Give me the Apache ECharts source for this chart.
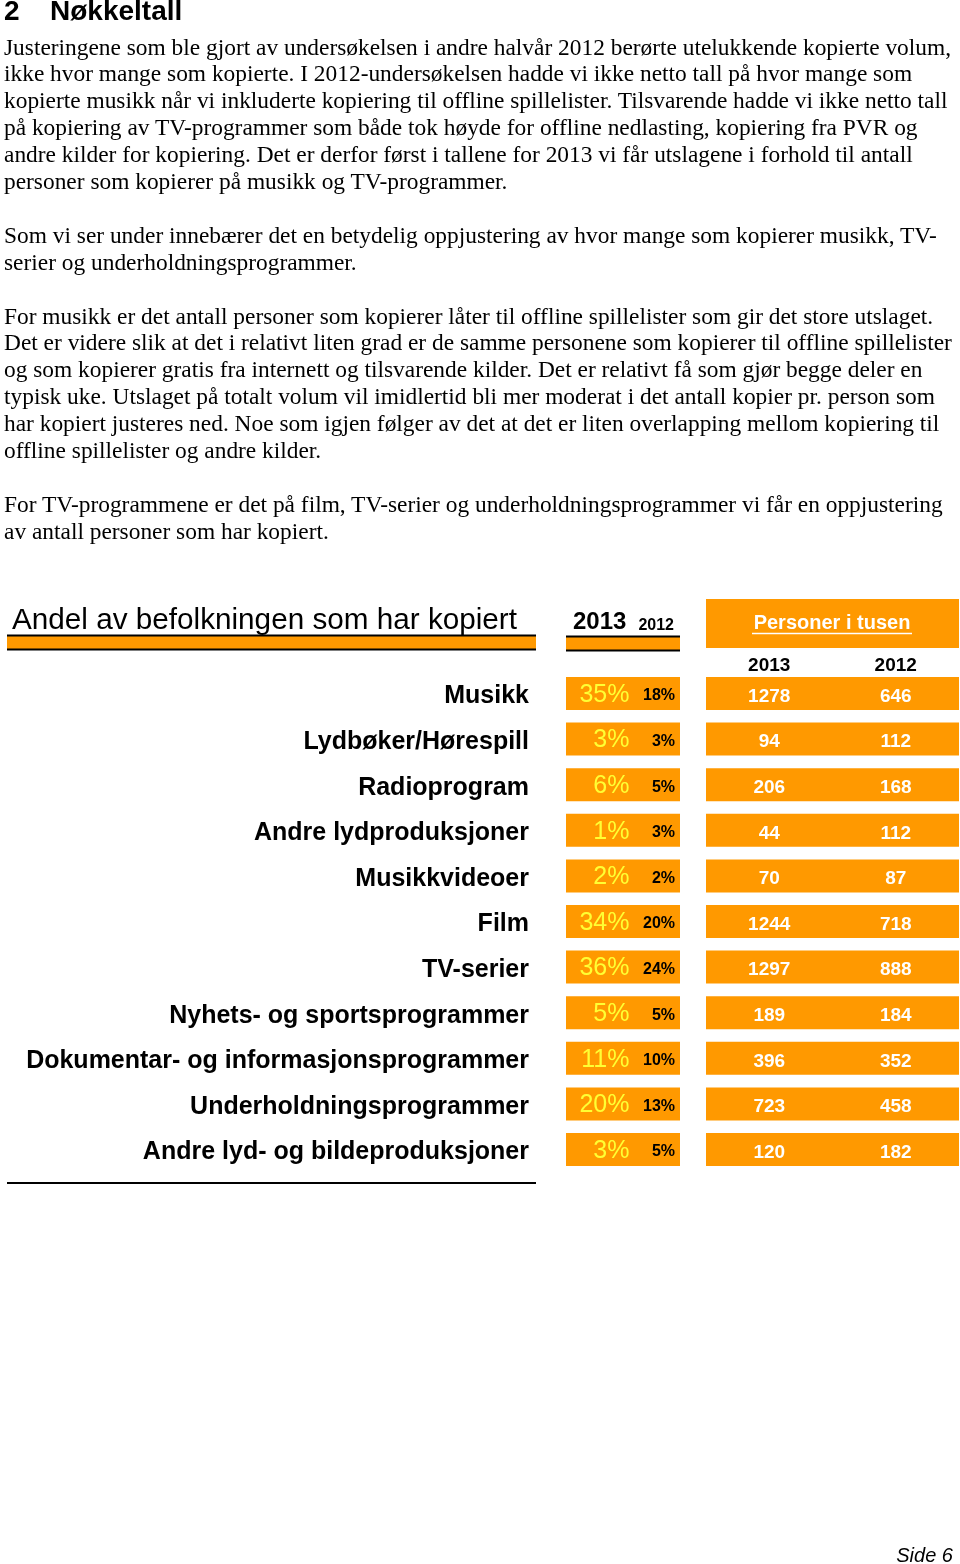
<!DOCTYPE html>
<html>
<head>
<meta charset="utf-8">
<script src="https://cdn.jsdelivr.net/npm/echarts@6/dist/echarts.min.js"></script>
<style>
html,body{margin:0;padding:0;background:#fff;}
#page{position:relative;width:960px;height:1564px;overflow:hidden;background:#fff;}
#chart{position:absolute;left:0;top:0;width:960px;height:1564px;}
.hd{position:absolute;top:-5px;font-family:'Liberation Sans',Arial,sans-serif;font-weight:bold;font-size:28px;line-height:32px;color:#000;white-space:nowrap;}
.body{position:absolute;left:4px;top:33.5px;font-family:'Liberation Serif','Times New Roman',serif;font-size:23.4px;line-height:26.9px;color:#000;white-space:pre;}
.side{position:absolute;right:7px;top:1542px;font-family:'Liberation Sans',Arial,sans-serif;font-style:italic;font-size:20px;line-height:26px;color:#000;}
</style>
</head>
<body>
<div id="page">
<div id="chart"></div>
<div class="hd" style="left:4px">2</div>
<div class="hd" style="left:50px">Nøkkeltall</div>
<div class="body">Justeringene som ble gjort av undersøkelsen i andre halvår 2012 berørte utelukkende kopierte volum,
ikke hvor mange som kopierte. I 2012-undersøkelsen hadde vi ikke netto tall på hvor mange som
kopierte musikk når vi inkluderte kopiering til offline spillelister. Tilsvarende hadde vi ikke netto tall
på kopiering av TV-programmer som både tok høyde for offline nedlasting, kopiering fra PVR og
andre kilder for kopiering. Det er derfor først i tallene for 2013 vi får utslagene i forhold til antall
personer som kopierer på musikk og TV-programmer.

Som vi ser under innebærer det en betydelig oppjustering av hvor mange som kopierer musikk, TV-
serier og underholdningsprogrammer.

For musikk er det antall personer som kopierer låter til offline spillelister som gir det store utslaget.
Det er videre slik at det i relativt liten grad er de samme personene som kopierer til offline spillelister
og som kopierer gratis fra internett og tilsvarende kilder. Det er relativt få som gjør begge deler en
typisk uke. Utslaget på totalt volum vil imidlertid bli mer moderat i det antall kopier pr. person som
har kopiert justeres ned. Noe som igjen følger av det at det er liten overlapping mellom kopiering til
offline spillelister og andre kilder.

For TV-programmene er det på film, TV-serier og underholdningsprogrammer vi får en oppjustering
av antall personer som har kopiert.</div>
<div class="side">Side 6</div>
</div>
<script>
const categories = ['Musikk','Lydbøker/Hørespill','Radioprogram','Andre lydproduksjoner','Musikkvideoer','Film','TV-serier','Nyhets- og sportsprogrammer','Dokumentar- og informasjonsprogrammer','Underholdningsprogrammer','Andre lyd- og bildeproduksjoner'];
const years = ['2013','2012'];
const pct2013 = [35,3,6,1,2,34,36,5,11,20,3];
const pct2012 = [18,3,5,3,2,20,24,5,10,13,5];
const pers2013 = [1278,94,206,44,70,1244,1297,189,396,723,120];
const pers2012 = [646,112,168,112,87,718,888,184,352,458,182];
const chartTitle = 'Andel av befolkningen som har kopiert';
const personsTitle = 'Personer i tusen';

const ORANGE = '#FF9900';
const FONT = "'Liberation Sans', Arial, sans-serif";

const pctData = categories.map((c,i)=>[0,i,pct2013[i],pct2012[i]]);
const persData = categories.map((c,i)=>[0,i,pers2013[i],pers2012[i]]);

function band(params, api){
  const cs = params.coordSys;
  const c = api.coord([0, api.value(1)]);
  const bh = api.size([0,1])[1]*0.724;
  return {type:'rect', shape:{x:cs.x, y:c[1]-bh/2, width:cs.width, height:bh}, style:{fill:ORANGE}};
}
function renderPct(params, api){
  const row = api.value(1);
  const c0 = api.coord([0,row]);
  const c1 = api.coord([1,row]);
  return {type:'group', children:[
    band(params, api),
    {type:'text', x:c0[0]+35, y:c0[1]+1.5, style:{text:api.value(2)+'%', align:'right', verticalAlign:'middle', fill:'#FFFF33', font:'25px '+FONT}},
    {type:'text', x:c1[0]+23.5, y:c1[1]+2.5, style:{text:api.value(3)+'%', align:'right', verticalAlign:'middle', fill:'#000', font:'bold 16px '+FONT}}
  ]};
}
function renderPers(params, api){
  const row = api.value(1);
  const c0 = api.coord([0,row]);
  const c1 = api.coord([1,row]);
  return {type:'group', children:[
    band(params, api),
    {type:'text', x:c0[0], y:c0[1]+3, style:{text:String(api.value(2)), align:'center', verticalAlign:'middle', fill:'#fff', font:'bold 19px '+FONT}},
    {type:'text', x:c1[0], y:c1[1]+3, style:{text:String(api.value(3)), align:'center', verticalAlign:'middle', fill:'#fff', font:'bold 19px '+FONT}}
  ]};
}

const chart = echarts.init(document.getElementById('chart'), null, {renderer:'canvas'});
const gTop = 670.7, gH = 501.6;
chart.setOption({
  animation:false,
  backgroundColor:'transparent',
  grid:[
    {left:566, width:114, top:gTop, height:gH},
    {left:706, width:253, top:gTop, height:gH}
  ],
  xAxis:[
    {type:'category', data:years, gridIndex:0, show:false},
    {type:'category', data:years, gridIndex:1, position:'top',
     axisLine:{show:false}, axisTick:{show:false}, splitLine:{show:false},
     axisLabel:{margin:5, verticalAlign:'middle', color:'#000', fontFamily:FONT, fontWeight:'bold', fontSize:19}}
  ],
  yAxis:[
    {type:'category', data:categories, gridIndex:0, inverse:true,
     axisLine:{show:false}, axisTick:{show:false}, splitLine:{show:false},
     axisLabel:{margin:37, color:'#000', fontFamily:FONT, fontWeight:'bold', fontSize:25, interval:0, verticalAlign:'top', lineHeight:6}},
    {type:'category', data:categories, gridIndex:1, inverse:true, show:false}
  ],
  series:[
    {type:'custom', name:'Andel', xAxisIndex:0, yAxisIndex:0, data:pctData, encode:{x:0,y:1}, renderItem:renderPct, clip:false},
    {type:'custom', name:'Personer', xAxisIndex:1, yAxisIndex:1, data:persData, encode:{x:0,y:1}, renderItem:renderPers, clip:false}
  ],
  graphic:[
    {type:'text', left:12, top:606, style:{text:chartTitle, fill:'#000', font:'29.7px '+FONT}},
    {type:'rect', shape:{x:7, y:636, width:529, height:13}, style:{fill:ORANGE}},
    {type:'line', shape:{x1:7, y1:635.5, x2:536, y2:635.5}, style:{stroke:'#000', lineWidth:2}},
    {type:'line', shape:{x1:7, y1:649.5, x2:536, y2:649.5}, style:{stroke:'#000', lineWidth:2}},
    {type:'text', x:573, y:634, style:{text:years[0], fill:'#000', font:'bold 24px '+FONT, verticalAlign:'bottom'}},
    {type:'text', x:674, y:634, style:{text:years[1], fill:'#000', font:'bold 16px '+FONT, align:'right', verticalAlign:'bottom'}},
    {type:'rect', shape:{x:566, y:637, width:114, height:13}, style:{fill:ORANGE}},
    {type:'line', shape:{x1:566, y1:636.5, x2:680, y2:636.5}, style:{stroke:'#000', lineWidth:2}},
    {type:'line', shape:{x1:566, y1:650.5, x2:680, y2:650.5}, style:{stroke:'#000', lineWidth:2}},
    {type:'rect', shape:{x:706, y:599, width:253, height:49}, style:{fill:ORANGE}},
    {type:'text', x:832, y:623, style:{text:personsTitle, fill:'#fff', font:'bold 20px '+FONT, align:'center', verticalAlign:'middle'}},
    {type:'line', shape:{x1:752, y1:633.5, x2:912, y2:633.5}, style:{stroke:'#fff', lineWidth:1.5}},
    {type:'line', shape:{x1:7, y1:1183, x2:536, y2:1183}, style:{stroke:'#000', lineWidth:2}}
  ]
});
</script>
</body>
</html>
